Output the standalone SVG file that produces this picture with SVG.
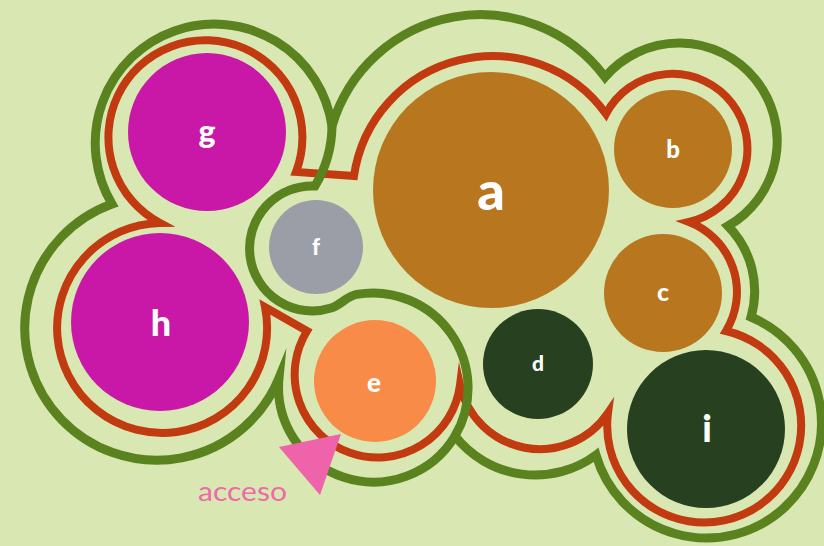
<svg xmlns="http://www.w3.org/2000/svg" width="824" height="546" viewBox="0 0 824 546">
<style>
.bg{fill:#d9e8b3}
.gl{fill:none;stroke:#5a821e;stroke-width:9;stroke-linejoin:miter;stroke-miterlimit:10}
.rl{fill:none;stroke:#c13a10;stroke-width:8;stroke-linejoin:miter;stroke-miterlimit:10}
.lbl{fill:#ffffff;font-family:Lato,"Open Sans","DejaVu Sans",sans-serif;font-weight:900;text-anchor:middle}
.mag{fill:#c918a8}
.brn{fill:#b8761f}
.dkg{fill:#27401f}
</style>
<rect class="bg" x="0" y="0" width="824" height="546"/>
<g id="connectors">
<path id="red-outline" class="rl" d="M 296 172 A 97 97 0 1 0 160 223 A 105 105 0 1 0 265 307 L 307 331 A 83 83 0 1 0 460 385 A 82 82 0 0 0 608 413 A 97 97 0 1 0 726 331 A 75 75 0 0 0 689 222 A 75 75 0 1 0 606 114 A 140 140 0 0 0 354 176 Z"/>
<path id="green-outline" class="gl" d="M 332 126 A 119 119 0 1 0 112 204 A 132 132 0 1 0 279 378 A 95 95 0 0 0 455 436 A 102 102 0 0 0 596 455 A 115 115 0 1 0 751 317 A 93 93 0 0 0 728 226 A 98 98 0 1 0 605 77 A 155 155 0 0 0 332 126 Z"/>
<path id="green-inner" class="gl" d="M 332 126 A 119 119 0 0 1 315 186 A 62.5 62.5 0 1 0 331 308 C 340 305.5 347 296 356.5 294.4 A 95 95 0 0 1 455 436"/>
</g>
<g id="node-g"><circle class="mag" cx="207" cy="132" r="79"/><text class="lbl" x="207" y="143" font-size="32">g</text></g>
<g id="node-h"><circle class="mag" cx="160" cy="322" r="89"/><text class="lbl" x="161" y="336" font-size="36">h</text></g>
<g id="node-f"><circle fill="#9b9ea6" cx="316" cy="247" r="47"/><text class="lbl" x="316" y="255" font-size="22">f</text></g>
<g id="node-a"><circle class="brn" cx="491" cy="190" r="118"/><text class="lbl" x="491" y="210" font-size="54">a</text></g>
<g id="node-b"><circle class="brn" cx="673" cy="149" r="59"/><text class="lbl" x="673" y="158" font-size="24">b</text></g>
<g id="node-c"><circle class="brn" cx="663" cy="293" r="59"/><text class="lbl" x="663" y="301" font-size="25">c</text></g>
<g id="node-d"><circle class="dkg" cx="538" cy="364" r="55"/><text class="lbl" x="538" y="371" font-size="21">d</text></g>
<g id="node-e"><circle fill="#f78b47" cx="375" cy="381" r="61"/><text class="lbl" x="374" y="392" font-size="26">e</text></g>
<g id="node-i"><circle class="dkg" cx="706" cy="429" r="79"/><text class="lbl" x="707" y="442" font-size="37">i</text></g>
<g id="acceso">
<polygon points="279,447 341,434 320,495" fill="#ee63a9"/>
<text x="198" y="501" font-family="Lato,'Open Sans','DejaVu Sans',sans-serif" font-size="26" fill="#ee6aa8" textLength="89" lengthAdjust="spacingAndGlyphs">acceso</text>
</g>
</svg>
